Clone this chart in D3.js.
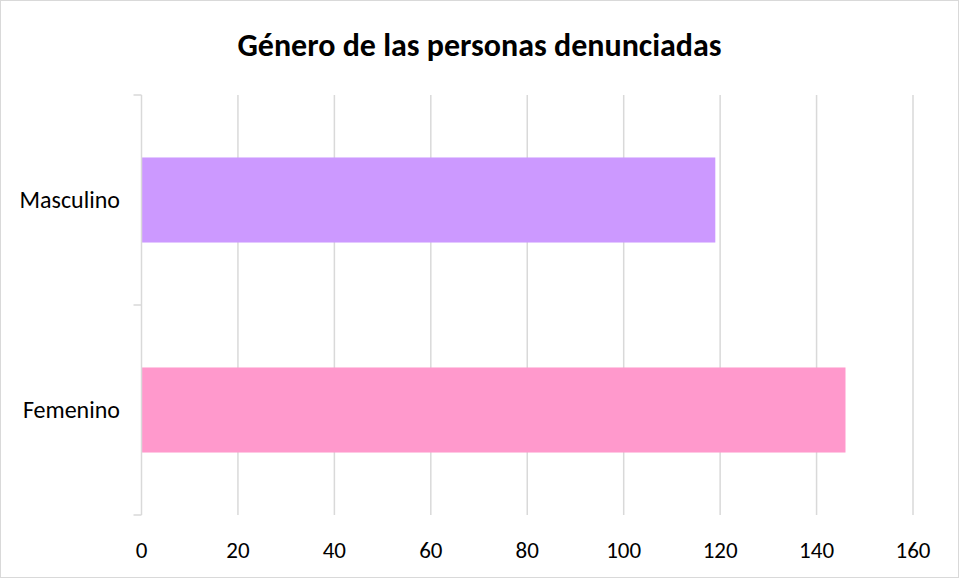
<!DOCTYPE html>
<html>
<head>
<meta charset="utf-8">
<script src="https://cdn.jsdelivr.net/npm/d3@7"></script>
<style>
  html, body { margin: 0; padding: 0; background: #fff; }
  svg { display: block; }
</style>
</head>
<body>
<div id="chart"></div>
<script>
const categories = ['Masculino', 'Femenino'];
const values = [119, 146];
const barColors = ['#CC99FF', '#FF99CC'];
const xTicks = [0, 20, 40, 60, 80, 100, 120, 140, 160];
const title = 'Género de las personas denunciadas';

const W = 959, H = 578, mL = 141.5, mR = 46, mT = 95, mB = 63;
const FONT = "Carlito, Calibri, Lato, 'Open Sans', sans-serif";

const svg = d3.select('#chart').append('svg').attr('width', W).attr('height', H);
svg.append('rect').attr('x', 0.5).attr('y', 0.5).attr('width', W - 1).attr('height', H - 1)
  .attr('fill', '#fff').attr('stroke', '#d9d9d9');

const x = d3.scaleLinear().domain([0, 160]).range([mL, W - mR]);
const y = d3.scaleBand().domain(categories).range([mT, H - mB]).paddingInner(0.595).paddingOuter(0.2975);

// gridlines
xTicks.slice(1).forEach(t => {
  svg.append('line').attr('x1', x(t)).attr('x2', x(t)).attr('y1', mT).attr('y2', H - mB)
    .attr('stroke', '#d9d9d9').attr('stroke-width', 1.5);
});

// bars
categories.forEach((c, i) => {
  svg.append('rect').attr('x', x(0)).attr('y', y(c)).attr('width', x(values[i]) - x(0))
    .attr('height', y.bandwidth()).attr('fill', barColors[i]);
});

// vertical category axis with boundary ticks
svg.append('line').attr('x1', x(0)).attr('x2', x(0)).attr('y1', mT).attr('y2', H - mB)
  .attr('stroke', '#d9d9d9').attr('stroke-width', 1.5);
const bounds = [mT, (mT + H - mB) / 2, H - mB];
bounds.forEach(b => {
  svg.append('line').attr('x1', x(0) - 8).attr('x2', x(0)).attr('y1', b).attr('y2', b)
    .attr('stroke', '#d9d9d9').attr('stroke-width', 1.5);
});

// category labels
categories.forEach(c => {
  svg.append('text').attr('x', 120).attr('y', y(c) + y.bandwidth() / 2).attr('dy', '0.35em')
    .attr('text-anchor', 'end').attr('font-family', FONT).attr('font-size', 24).attr('fill', '#000')
    .text(c);
});

// x tick labels
xTicks.forEach(t => {
  svg.append('text').attr('x', x(t)).attr('y', H - mB + 35).attr('dy', '0.35em')
    .attr('text-anchor', 'middle').attr('font-family', FONT).attr('font-size', 23).attr('fill', '#000')
    .text(t);
});

// title
svg.append('text').attr('x', W / 2).attr('y', 45).attr('dy', '0.35em').attr('text-anchor', 'middle')
  .attr('font-family', FONT).attr('font-size', 32).attr('font-weight', 700).attr('fill', '#000')
  .text(title);
</script>
</body>
</html>
